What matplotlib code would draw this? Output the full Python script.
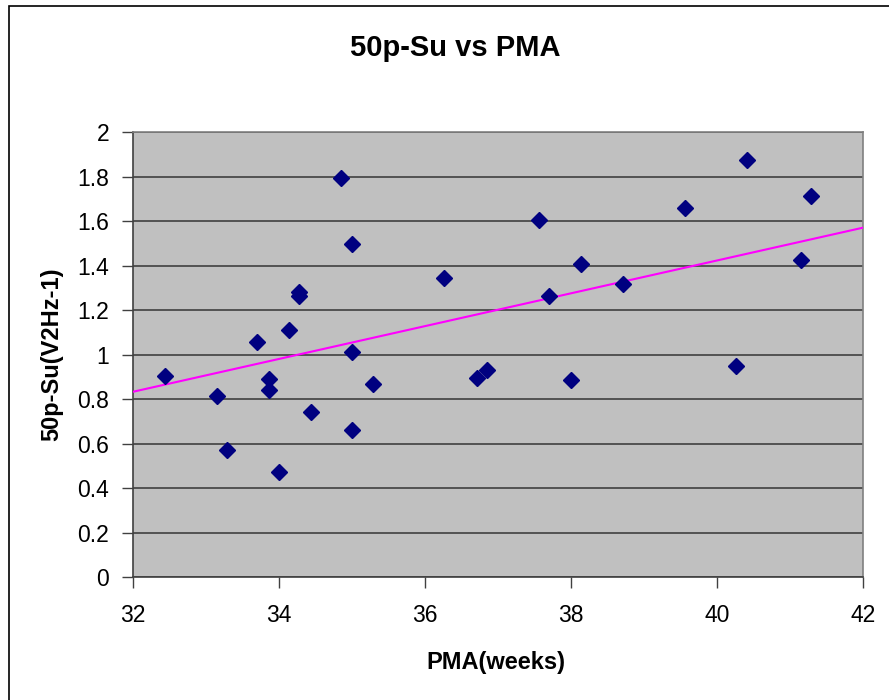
import numpy as np
import matplotlib
matplotlib.use("Agg")
import matplotlib.pyplot as plt
from matplotlib.patches import Rectangle

# PMA (weeks) and 50p-Su values
pma = [32.44, 33.15, 33.29, 33.70, 33.87, 33.87, 34.00, 34.14, 34.28, 34.28,
       34.44, 34.85, 35.01, 35.01, 35.01, 35.29, 36.27, 36.71, 36.85, 37.56,
       37.70, 38.00, 38.14, 38.71, 39.56, 40.27, 40.41, 41.15, 41.29]
su50p = [0.905, 0.815, 0.572, 1.058, 0.889, 0.841, 0.474, 1.110, 1.283, 1.263,
         0.744, 1.794, 1.497, 1.013, 0.661, 0.870, 1.346, 0.897, 0.932, 1.604,
         1.265, 0.887, 1.407, 1.318, 1.658, 0.950, 1.875, 1.426, 1.713]

# linear trendline as drawn in the chart (end points)
trend_x = [32, 42]
trend_y = [0.833, 1.570]

x_ticks = [32, 34, 36, 38, 40, 42]
y_ticks = [0, 0.2, 0.4, 0.6, 0.8, 1, 1.2, 1.4, 1.6, 1.8, 2]
y_tick_labels = ["0", "0.2", "0.4", "0.6", "0.8", "1", "1.2", "1.4", "1.6", "1.8", "2"]

plt.rcParams['font.family'] = ['Liberation Sans', 'DejaVu Sans']

W, H = 889, 700
fig = plt.figure(figsize=(W/100, H/100), dpi=100)
fig.patches.append(Rectangle((8.5/W, -0.1), 1.2, 1 - 6/H + 0.1, transform=fig.transFigure,
                             fill=False, edgecolor='black', linewidth=1.2))

ax = fig.add_axes([132.7/W, 1 - 577.3/H, (862.7 - 132.7)/W, (577.3 - 132)/H])
ax.set_facecolor('#C0C0C0')

ax.plot(trend_x, trend_y, color='#FF00FF', linewidth=1.5, zorder=3)

ax.plot(pma, su50p, linestyle='none', marker='D', markersize=8.5,
        color='#000080', markeredgecolor='#000080', zorder=4)

ax.set_xlim(32, 42)
ax.set_ylim(0, 2)
ax.set_xticks(x_ticks)
ax.set_yticks(y_ticks)
ax.set_yticklabels(y_tick_labels)
ax.yaxis.grid(True, color='#404040', linewidth=1.2)
ax.set_axisbelow(True)

for side in ['left', 'bottom']:
    ax.spines[side].set_color('#404040')
    ax.spines[side].set_linewidth(1.2)
for side in ['right', 'top']:
    ax.spines[side].set_color('#808080')
    ax.spines[side].set_linewidth(1.2)

ax.tick_params(axis='both', direction='out', length=8, width=1, color='#404040',
               labelsize=16.5, labelcolor='black')
ax.tick_params(axis='x', pad=11)
ax.tick_params(axis='y', pad=9)

fig.text(455/W, 1 - 48/H, "50p-Su vs PMA", ha='center', va='center',
         fontsize=21, fontweight='bold')
fig.text(496/W, 1 - 662/H, "PMA(weeks)", ha='center', va='center',
         fontsize=17, fontweight='bold')
fig.text(52/W, 1 - 354/H, "50p-Su(V2Hz-1)", ha='center', va='center',
         fontsize=17, fontweight='bold', rotation=90)

plt.savefig("out.png", dpi=100)
